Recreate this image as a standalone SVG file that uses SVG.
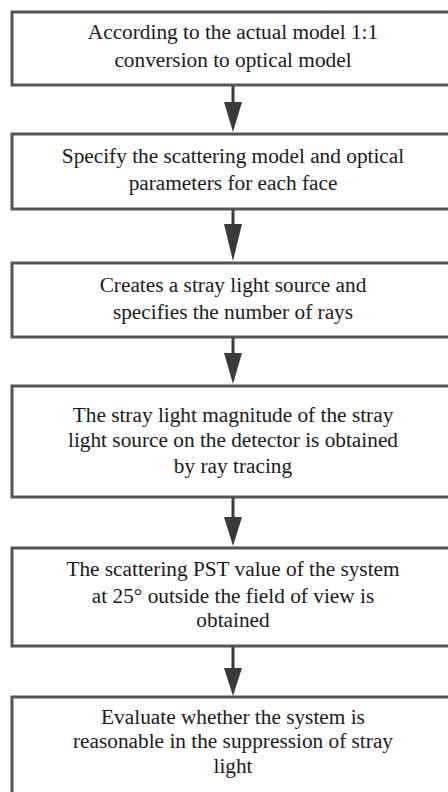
<svg xmlns="http://www.w3.org/2000/svg" width="448" height="792" viewBox="0 0 448 792">
<style>
.box{fill:#fff;stroke:#555;stroke-width:3}
.t{font-family:"Liberation Serif","Times New Roman",serif;font-size:21.3px;fill:#1a1a1a;text-anchor:middle}
.ln{stroke:#3a3a3a;stroke-width:3;fill:none}
.ah{fill:#3a3a3a}
</style>
<rect width="448" height="792" fill="#fff"/>
<g id="connectors">
<line class="ln" x1="233" y1="85" x2="233" y2="104"/><polygon class="ah" points="224,102 242,102 233,132"/>
<line class="ln" x1="233" y1="209" x2="233" y2="226"/><polygon class="ah" points="224,224 242,224 233,261"/>
<line class="ln" x1="233" y1="337" x2="233" y2="355"/><polygon class="ah" points="224,353 242,353 233,384"/>
<line class="ln" x1="233" y1="497" x2="233" y2="519"/><polygon class="ah" points="224,517 242,517 233,546"/>
<line class="ln" x1="233" y1="646" x2="233" y2="670"/><polygon class="ah" points="224,668 242,668 233,696"/>
</g>
<g id="n1"><rect class="box" x="12" y="12" width="444" height="73"/>
<text class="t" x="233" y="39">According to the actual model 1:1</text>
<text class="t" x="233" y="67">conversion to optical model</text></g>
<g id="n2"><rect class="box" x="12" y="134" width="444" height="75"/>
<text class="t" x="233" y="163">Specify the scattering model and optical</text>
<text class="t" x="233" y="190">parameters for each face</text></g>
<g id="n3"><rect class="box" x="12" y="263" width="444" height="74"/>
<text class="t" x="233" y="292">Creates a stray light source and</text>
<text class="t" x="233" y="319">specifies the number of rays</text></g>
<g id="n4"><rect class="box" x="12" y="386" width="444" height="111"/>
<text class="t" x="233" y="422">The stray light magnitude of the stray</text>
<text class="t" x="233" y="447">light source on the detector is obtained</text>
<text class="t" x="233" y="473">by ray tracing</text></g>
<g id="n5"><rect class="box" x="12" y="548" width="444" height="98"/>
<text class="t" x="233" y="576">The scattering PST value of the system</text>
<text class="t" x="233" y="603">at 25° outside the field of view is</text>
<text class="t" x="233" y="627">obtained</text></g>
<g id="n6"><rect class="box" x="12" y="697" width="444" height="110"/>
<text class="t" x="233" y="724">Evaluate whether the system is</text>
<text class="t" x="233" y="748">reasonable in the suppression of stray</text>
<text class="t" x="233" y="773">light</text></g>
</svg>
